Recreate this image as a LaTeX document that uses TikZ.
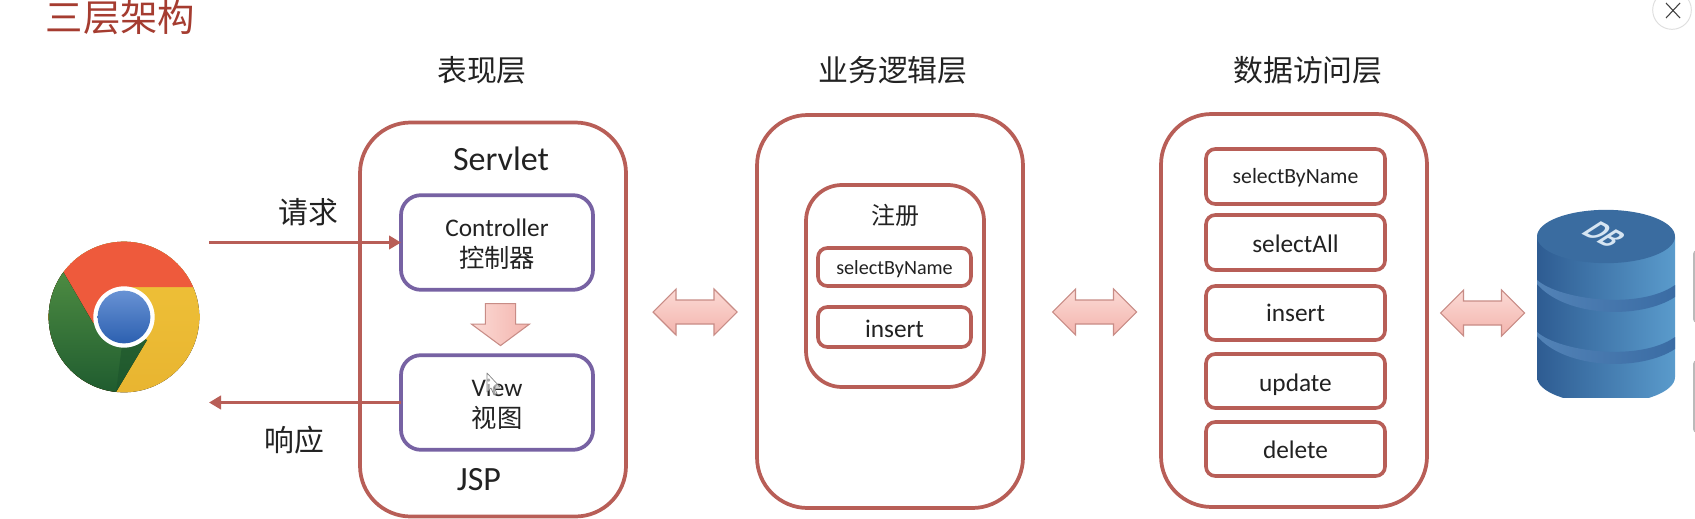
\documentclass[tikz,border=0pt]{standalone}
\usepackage{fontspec}
\setmainfont{Carlito}
\newfontfamily\cjk{Noto Sans CJK SC}
\usetikzlibrary{arrows.meta,shapes.arrows,calc}
\definecolor{brick}{HTML}{B85E57}
\definecolor{violet}{HTML}{7762A3}
\definecolor{titlered}{HTML}{A53C30}
\definecolor{ink}{HTML}{222222}
\definecolor{blockline}{HTML}{C88C86}
\definecolor{blocktop}{HTML}{FBDAD5}
\definecolor{blockbot}{HTML}{F3B4AD}
\tikzset{
  x=0.75pt,y=-0.75pt,
  tierbox/.style={draw=brick,line width=2.8pt,rounded corners=38pt,inner sep=0pt,outer sep=0pt,fill=white},
  groupbox/.style={draw=brick,line width=2.8pt,rounded corners=27pt,inner sep=0pt,outer sep=0pt,fill=white},
  itembox/.style={draw=brick,line width=2.7pt,rounded corners=7pt,inner sep=0pt,outer sep=0pt,fill=white,text=ink,font=\fontsize{19}{22}\selectfont,text depth=0pt},
  partbox/.style={draw=violet,line width=2.8pt,rounded corners=15pt,inner sep=0pt,outer sep=0pt,fill=white,text=ink,align=center,minimum width=144pt,minimum height=71pt,font=\fontsize{19}{23}\selectfont},
  head/.style={text=ink,inner sep=0pt,font=\cjk\fontsize{22.4}{26}\selectfont},
  label/.style={text=ink,inner sep=0pt,font=\fontsize{25.5}{30}\selectfont},
  flow/.style={draw=brick,line width=2.9pt,-{Triangle[length=9pt,width=10pt]}},
  swap/.style={shape=double arrow,double arrow head extend=8.25pt,double arrow tip angle=90,double arrow head indent=0pt,
    minimum height=63pt,inner xsep=0pt,inner ysep=8.6pt,outer sep=0pt,draw=blockline,line width=0.8pt,
    top color=blocktop,bottom color=blockbot},
}
\begin{document}
\begin{tikzpicture}
\useasboundingbox (0,0) rectangle (1695,518);
\fill[white] (0,0) rectangle (1695,518);

% title and close button
\node[inner sep=0pt,text=titlered,font=\cjk\fontsize{28}{32}\selectfont] (title) at (120.5,17) {三层架构};
\coordinate (closec) at (1672,10);
\draw[draw=black!13,line width=0.7pt] (closec) circle[radius=14.5pt];
\draw[draw=black!75,line width=0.8pt] (1666,3) -- (1680,18) (1680,3) -- (1666,18);

% slivers at the right edge
\begin{scope}
  \clip (1680,200) rectangle (1695,518);
  \fill[black!27,rounded corners=3pt] (1693,250) rectangle (1710,323);
  \fill[black!27,rounded corners=3pt] (1693,360) rectangle (1710,433);
\end{scope}

% headers
\node[head] (h1) at (482,70) {表现层};
\node[head] (h2) at (893,70) {业务逻辑层};
\node[head] (h3) at (1308,70) {数据访问层};

% tier boxes
\node[tierbox,minimum width=199.5pt,minimum height=295.5pt] (t1) at (493,319.5) {};
\node[tierbox,minimum width=199.5pt,minimum height=294.75pt] (t2) at (890,311.5) {};
\node[tierbox,minimum width=199.5pt,minimum height=294.75pt] (t3) at (1294,310.5) {};

% request / response labels
\node[head] (req) at (308,212) {请求};
\node[head] (resp) at (294,440) {响应};

% presentation tier
\node[label] (servlet) at (501,159) {Servlet};
\node[label] (jsp) at (479,480) {JSP};
\node[partbox] (ctrl) at (497,242.5) {\rule{0pt}{16pt}Controller\\{\cjk 控制器}};
\node[partbox] (view) at (497,402.5) {\rule{0pt}{16pt}View\\{\cjk 视图}};
\node[shape=single arrow,single arrow head extend=10.5pt,single arrow tip angle=107,single arrow head indent=0pt,
  minimum height=31.5pt,inner xsep=0pt,inner ysep=10.9pt,outer sep=0pt,draw=blockline,line width=0.8pt,
  rotate=-90,left color=blocktop,right color=blockbot] (down) at (500.5,319) {};

% mouse pointer
\draw[draw=black!50,fill=white,fill opacity=0.6,line width=0.5pt,line join=round]
  (487,373) -- (487,392) -- (491,388) -- (494,395) -- (497,393.5) -- (494,387) -- (500,387) -- cycle;

% connectors
\coordinate (reqfrom) at (209,242.5);
\coordinate (respto) at (209,402.5);
\draw[flow] (reqfrom) -- (ctrl.west);
\draw[flow] (view.west) -- (respto);

% business tier
\node[groupbox,minimum width=133.5pt,minimum height=151.5pt] (reg) at (895,286) {};
\node[inner sep=0pt,text=ink,font=\cjk\fontsize{18}{22}\selectfont] (regt) at (895,215.5) {注册};
\node[itembox,font=\fontsize{15.1}{18}\selectfont,text height=10.5pt,minimum width=114.75pt,minimum height=28.5pt] (bsel) at (894.5,267) {selectByName};
\node[itembox,text height=15pt,minimum width=114.75pt,minimum height=30pt] (bins) at (894.5,327) {insert};

% data tier
\node[itembox,font=\fontsize{16.3}{20}\selectfont,text height=9.75pt,minimum width=134.25pt,minimum height=41.25pt] (d1) at (1295.5,176.5) {selectByName};
\node[itembox,text height=14.25pt,minimum width=134.25pt,minimum height=41.25pt] (d2) at (1295.5,242.5) {selectAll};
\node[itembox,text height=12pt,minimum width=134.25pt,minimum height=40.5pt] (d3) at (1295.5,313) {insert};
\node[itembox,text height=15pt,minimum width=134.25pt,minimum height=40.5pt] (d4) at (1295.5,381) {update};
\node[itembox,text height=13.5pt,minimum width=134.25pt,minimum height=40.5pt] (d5) at (1295.5,449) {delete};

% block arrows
\node[swap] (s1) at (695,312) {};
\node[swap] (s2) at (1094.5,312) {};
\node[swap] (s3) at (1482.5,313) {};

% browser logo
\begin{scope}
  \clip (124,317) circle[radius=56.5pt];
  \fill[top color={rgb,255:red,240;green,196;blue,58},bottom color={rgb,255:red,232;green,180;blue,48}] (40,230) rectangle (210,400);
  \fill[fill={rgb,255:red,238;green,90;blue,60}] (93,323) -- (40,232) -- (40,230) -- (210,230) -- (210,287) -- (124,287) -- cycle;
  \fill[top color={rgb,255:red,92;green,155;blue,72},middle color={rgb,255:red,76;green,140;blue,66},bottom color={rgb,255:red,24;green,84;blue,44}] (93,323) -- (40,232) -- (30,232) -- (30,400) -- (104,412) -- (147,340) -- cycle;
  \fill[fill={rgb,255:red,28;green,84;blue,44},opacity=0.6] (147,340) -- (116,392) -- (122,345) -- cycle;
\end{scope}
\fill[white] (124,317) circle[radius=23pt];
\shade[top color={rgb,255:red,104;green,146;blue,212},bottom color={rgb,255:red,44;green,96;blue,176}] (124,317) circle[radius=19.8pt];

% database
\begin{scope}
  \clip (1530,200) rectangle (1680,397);
  \shade[left color={rgb,255:red,46;green,92;blue,146},right color={rgb,255:red,90;green,155;blue,204}]
    (1537,237) -- (1537,377) arc[start angle=180,end angle=360,x radius=51.75pt,y radius=20pt] -- (1675,237) -- cycle;
\end{scope}
\shade[left color={rgb,255:red,82;green,130;blue,182},right color={rgb,255:red,58;green,108;blue,164}]
  (1537,280) .. controls (1560,300) and (1640,310) .. (1675,285) -- (1675,297) .. controls (1640,320) and (1565,317) .. (1537,284) -- cycle;
\shade[left color={rgb,255:red,82;green,130;blue,182},right color={rgb,255:red,58;green,108;blue,164}]
  (1537,332) .. controls (1560,352) and (1640,362) .. (1675,337) -- (1675,349) .. controls (1640,372) and (1565,369) .. (1537,336) -- cycle;
\fill[fill={rgb,255:red,58;green,108;blue,160}] (1606,236.5) ellipse[x radius=51.75pt,y radius=20pt];
\node[inner sep=0pt,transform shape,cm={1.2,-0.62,1.5,0.97,(0,0)},text={rgb,255:red,214;green,229;blue,242},font=\bfseries\fontsize{15}{17}\selectfont] (db) at (1604,235) {DB};
\end{tikzpicture}
\end{document}
